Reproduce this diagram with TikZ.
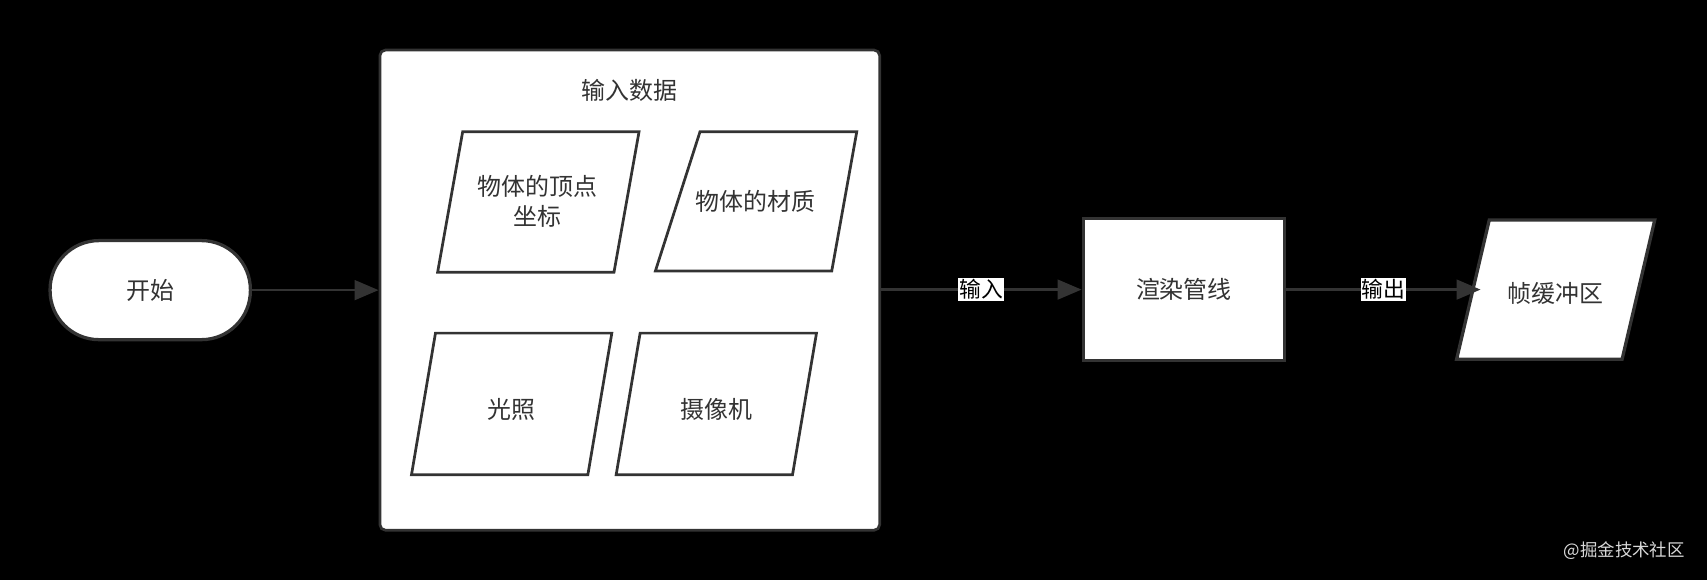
\documentclass[tikz,border=0pt]{standalone}
\usepackage{fontspec}
\setmainfont{Noto Sans CJK SC}
\usetikzlibrary{arrows.meta}
\definecolor{edge}{HTML}{333333}
\tikzset{x=1pt,y=-1pt,
 shp/.style={draw=edge,line width=3pt,fill=white},
 lbl/.style={font=\fontsize{22}{27}\selectfont,text=edge,align=center},
 conn/.style={draw=edge,line width=2.5pt,-{Triangle[length=22pt,width=18pt]}},
 elbl/.style={font=\fontsize{20}{24}\selectfont,fill=white,text=black,inner sep=1pt}}
\begin{document}
\begin{tikzpicture}
\fill[black] (0,0) rectangle (1568,533);
\useasboundingbox (0,0) rectangle (1568,533);
% start
\node[shp,rounded corners=45pt,minimum width=184pt,minimum height=91pt] (start) at (138,266.5) {};
\node[lbl] at (start) {开始};
% input box
\node[shp,rounded corners=5pt,minimum width=459pt,minimum height=441pt,line width=2.5pt] (inp) at (578.5,266.5) {};
\node[lbl] at (578,83) {输入数据};
\draw[shp,line width=2.5pt] (425,121)--(587,121)--(564,250)--(402,250)--cycle;
\node[lbl] (p1) at (494,185) {物体的顶点\\坐标};
\draw[shp,line width=2.5pt] (643,121)--(787,121)--(764,249)--(602,249)--cycle;
\node[lbl] (p2) at (694,185) {物体的材质};
\draw[shp,line width=2.5pt] (400,306)--(562,306)--(540,436)--(378,436)--cycle;
\node[lbl] (p3) at (470,376) {光照};
\draw[shp,line width=2.5pt] (588,306)--(750,306)--(728,436)--(566,436)--cycle;
\node[lbl] (p4) at (658,376) {摄像机};
% render
\node[shp,minimum width=185pt,minimum height=130pt] (rend) at (1087.5,266) {};
\node[lbl] at (rend) {渲染管线};
% frame buffer
\draw[shp] (1368,202)--(1520,202)--(1490,330)--(1338,330)--cycle;
\node[lbl] (fb) at (1429,270) {帧缓冲区};
\coordinate (fbl) at (1360,267);
% connectors
\draw[conn] (start.east) -- (inp.west |- start.east);
\draw[conn] (inp.east |- rend.west) -- node[elbl]{输入} (rend.west);
\draw[conn] (rend.east) -- node[elbl]{输出} (fbl |- rend.east);
\node[font=\fontsize{16}{19}\selectfont,text=white!85!black] (wm) at (1492,506) {@掘金技术社区};
\end{tikzpicture}
\end{document}
